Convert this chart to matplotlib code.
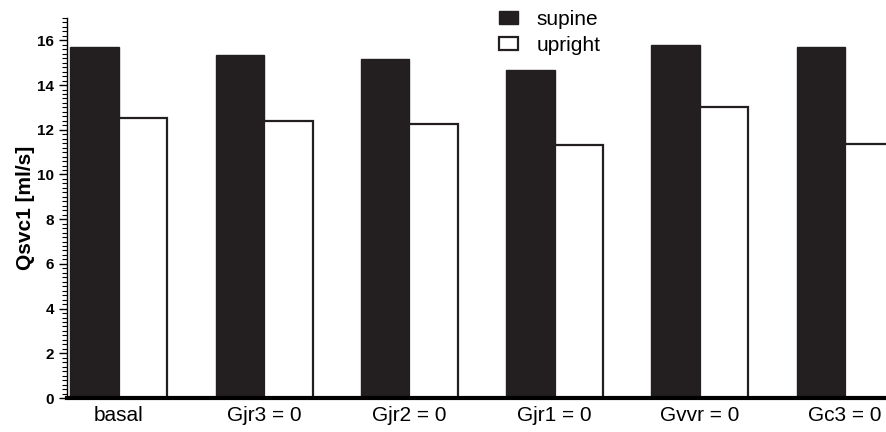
import matplotlib
matplotlib.use("Agg")
import matplotlib.pyplot as plt
import numpy as np
from matplotlib.ticker import MultipleLocator

plt.rcParams['font.family'] = ['Liberation Sans', 'DejaVu Sans']

categories = ["basal", "Gjr3 = 0", "Gjr2 = 0", "Gjr1 = 0", "Gvvr = 0", "Gc3 = 0"]
supine = [15.69, 15.33, 15.15, 14.66, 15.78, 15.69]
upright = [12.51, 12.38, 12.25, 11.31, 13.0, 11.35]

fig = plt.figure(figsize=(8.86, 4.32), dpi=100)
ax = fig.add_axes([67/886, 34/432, 1 - 67/886, 380/432])

x = np.arange(len(categories))
w = 0.334
ax.bar(x - w/2, supine, width=w, color='#231f20', edgecolor='#231f20', linewidth=1.0, label='supine')
ax.bar(x + w/2, upright, width=w, color='white', edgecolor='#231f20', linewidth=1.6, label='upright')

ax.set_xlim(-0.358, len(categories) - 1 + 0.282)
ax.set_ylim(0, 17)
ax.set_xticks(x)
ax.set_xticklabels(categories, fontsize=15)
ax.tick_params(axis='x', length=0, pad=6)
ax.yaxis.set_major_locator(MultipleLocator(2))
ax.yaxis.set_minor_locator(MultipleLocator(0.2))
ax.tick_params(axis='y', which='major', length=6, width=1, direction='out', labelsize=11)
ax.tick_params(axis='y', which='minor', length=3.5, width=0.8, direction='out')
for lbl in ax.get_yticklabels():
    lbl.set_fontweight('bold')

ax.spines['top'].set_visible(False)
ax.spines['right'].set_visible(False)
ax.spines['left'].set_linewidth(1.0)
ax.spines['bottom'].set_linewidth(3.0)
ax.spines['bottom'].set_zorder(5)

ax.set_ylabel("Qsvc1 [ml/s]", fontsize=15, fontweight='bold', labelpad=1)

ax.legend(loc='upper left', bbox_to_anchor=(499/886, 1 - 10/432), bbox_transform=fig.transFigure,
          frameon=False, fontsize=15, handlelength=0.91, handleheight=0.58,
          labelspacing=0.32, handletextpad=0.9, borderpad=0, borderaxespad=0)

fig.savefig("out.png", dpi=100)
